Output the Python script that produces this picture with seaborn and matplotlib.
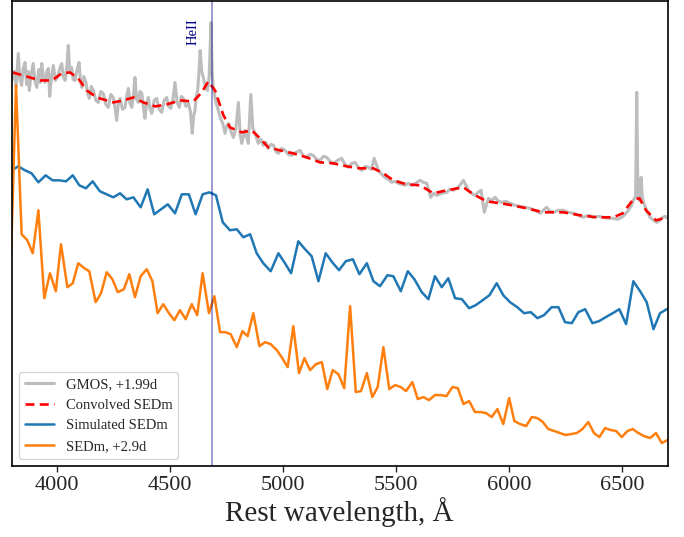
import numpy as np
import pandas as pd
import matplotlib
matplotlib.use("Agg")
import matplotlib.pyplot as plt
import seaborn as sns

# ---------------- data (normalised flux + arbitrary offsets) ----------------
gmos_wl = [3800, 3812, 3820, 3829, 3836, 3844, 3851, 3859, 3866, 3872, 3878, 3886, 3895, 3903,
           3911, 3920, 3926, 3933, 3940, 3947, 3955, 3962, 3968, 3976, 3984, 3993, 4002, 4011,
           4021, 4028, 4036, 4044, 4050, 4057, 4065, 4072, 4080, 4089, 4098, 4104, 4110, 4119,
           4128, 4135, 4143, 4152, 4161, 4172, 4183, 4194, 4205, 4216, 4227, 4238, 4249, 4256,
           4264, 4271, 4279, 4290, 4301, 4308, 4316, 4323, 4331, 4338, 4345, 4352, 4360, 4367,
           4375, 4382, 4389, 4396, 4404, 4411, 4419, 4430, 4441, 4452, 4463, 4474, 4485, 4494,
           4503, 4512, 4522, 4531, 4541, 4550, 4559, 4570, 4581, 4590, 4598, 4604, 4610, 4616,
           4622, 4628, 4633, 4640, 4647, 4656, 4665, 4673, 4681, 4686, 4691, 4702, 4713, 4723,
           4733, 4743, 4750, 4758, 4769, 4780, 4791, 4802, 4810, 4817, 4831, 4846, 4857, 4866,
           4876, 4890, 4901, 4912, 4923, 4934, 4946, 4957, 4968, 4979, 4993, 5008, 5023, 5038,
           5056, 5075, 5090, 5104, 5118, 5133, 5148, 5163, 5178, 5193, 5207, 5222, 5240, 5259,
           5273, 5288, 5303, 5318, 5332, 5347, 5362, 5377, 5390, 5402, 5421, 5435, 5450, 5465,
           5480, 5495, 5509, 5524, 5539, 5553, 5568, 5586, 5605, 5620, 5635, 5652, 5665, 5679,
           5700, 5723, 5737, 5752, 5774, 5797, 5819, 5833, 5848, 5862, 5875, 5889, 5907, 5922,
           5937, 5952, 5966, 5985, 6003, 6025, 6047, 6069, 6091, 6113, 6136, 6150, 6165, 6180,
           6194, 6216, 6239, 6261, 6283, 6305, 6327, 6349, 6371, 6393, 6415, 6437, 6460, 6478,
           6497, 6512, 6526, 6538, 6548, 6558, 6563, 6568, 6573, 6578, 6582, 6588, 6595, 6608,
           6622, 6637, 6652, 6665, 6678, 6690, 6700]
gmos_fl = [3.86, 3.95, 3.80, 4.13, 3.88, 3.81, 3.98, 4.04, 3.82, 3.95, 3.76, 3.92, 4.03, 3.85,
           3.79, 3.97, 3.84, 4.03, 3.88, 3.84, 3.95, 3.98, 3.70, 3.90, 4.01, 3.86, 3.89, 3.97,
           4.03, 3.90, 3.86, 4.00, 4.21, 3.95, 3.99, 3.87, 3.86, 3.97, 4.04, 3.86, 3.79, 3.90,
           3.84, 3.74, 3.68, 3.80, 3.76, 3.66, 3.64, 3.75, 3.73, 3.62, 3.59, 3.72, 3.69, 3.60,
           3.46, 3.62, 3.68, 3.57, 3.59, 3.70, 3.78, 3.63, 3.59, 3.71, 3.89, 3.67, 3.64, 3.75,
           3.73, 3.60, 3.48, 3.62, 3.69, 3.58, 3.53, 3.66, 3.68, 3.57, 3.54, 3.66, 3.69, 3.60,
           3.58, 3.66, 3.84, 3.64, 3.59, 3.70, 3.68, 3.60, 3.63, 3.55, 3.33, 3.50, 3.56, 3.70,
           3.76, 3.95, 4.16, 3.95, 3.89, 3.80, 3.76, 3.90, 4.44, 3.95, 3.79, 3.65, 3.56, 3.48,
           3.43, 3.33, 3.40, 3.43, 3.35, 3.29, 3.38, 3.64, 3.32, 3.23, 3.36, 3.23, 3.72, 3.38,
           3.33, 3.23, 3.27, 3.21, 3.24, 3.18, 3.22, 3.21, 3.15, 3.13, 3.18, 3.16, 3.12, 3.11,
           3.14, 3.16, 3.10, 3.09, 3.12, 3.11, 3.07, 3.06, 3.10, 3.09, 3.05, 3.03, 3.06, 3.08,
           3.02, 2.99, 3.03, 3.04, 2.99, 2.96, 3.00, 2.99, 2.97, 3.08, 2.96, 2.92, 2.89, 2.87,
           2.84, 2.85, 2.83, 2.82, 2.81, 2.83, 2.81, 2.83, 2.86, 2.84, 2.83, 2.69, 2.73, 2.71,
           2.73, 2.74, 2.77, 2.76, 2.79, 2.86, 2.76, 2.73, 2.71, 2.74, 2.76, 2.54, 2.68, 2.66,
           2.69, 2.65, 2.64, 2.65, 2.63, 2.61, 2.60, 2.59, 2.58, 2.56, 2.53, 2.56, 2.59, 2.55,
           2.54, 2.56, 2.56, 2.54, 2.53, 2.51, 2.49, 2.51, 2.49, 2.50, 2.49, 2.48, 2.48, 2.47,
           2.49, 2.52, 2.56, 2.60, 2.66, 2.70, 3.74, 2.72, 2.66, 2.72, 2.89, 2.68, 2.63, 2.55,
           2.49, 2.46, 2.44, 2.46, 2.49, 2.50, 2.48]

conv_wl = [3804, 3866, 3925, 3977, 4021, 4058, 4094, 4132, 4176, 4249, 4293, 4338, 4382, 4434,
           4485, 4544, 4603, 4640, 4669, 4699, 4736, 4765, 4817, 4861, 4898, 4934, 4986, 5045,
           5104, 5163, 5222, 5281, 5340, 5399, 5443, 5487, 5546, 5605, 5664, 5723, 5797, 5841,
           5900, 5988, 6077, 6150, 6239, 6313, 6386, 6460, 6501, 6548, 6575, 6604, 6648, 6700]
conv_fl = [3.94, 3.90, 3.86, 3.86, 3.93, 3.94, 3.88, 3.76, 3.69, 3.64, 3.66, 3.69, 3.64, 3.60,
           3.62, 3.66, 3.65, 3.74, 3.85, 3.76, 3.51, 3.39, 3.34, 3.36, 3.28, 3.19, 3.16, 3.13,
           3.09, 3.04, 3.03, 3.00, 2.98, 2.98, 2.93, 2.86, 2.82, 2.81, 2.73, 2.76, 2.79, 2.72,
           2.65, 2.62, 2.58, 2.54, 2.54, 2.51, 2.49, 2.49, 2.53, 2.67, 2.68, 2.56, 2.46, 2.49]

sim_wl = [3800, 3829, 3859, 3888, 3918, 3950, 3981, 4010, 4040, 4070, 4099, 4128, 4158, 4190,
          4220, 4249, 4279, 4308, 4338, 4370, 4401, 4430, 4460, 4490, 4522, 4552, 4583, 4613,
          4644, 4674, 4703, 4733, 4765, 4795, 4824, 4854, 4883, 4912, 4945, 4979, 5008, 5035,
          5067, 5097, 5126, 5156, 5188, 5217, 5247, 5277, 5308, 5337, 5370, 5399, 5428, 5461,
          5487, 5520, 5551, 5580, 5613, 5642, 5671, 5701, 5730, 5760, 5790, 5822, 5851, 5882,
          5912, 5944, 5973, 6003, 6035, 6065, 6095, 6124, 6153, 6187, 6217, 6246, 6276, 6305,
          6335, 6367, 6396, 6426, 6457, 6486, 6516, 6548, 6578, 6607, 6637, 6666, 6696, 6726]
sim_fl = [2.96, 3.00, 2.96, 2.93, 2.84, 2.91, 2.86, 2.86, 2.85, 2.91, 2.81, 2.78, 2.85, 2.75,
          2.72, 2.69, 2.73, 2.67, 2.69, 2.59, 2.77, 2.52, 2.57, 2.62, 2.53, 2.72, 2.72, 2.52,
          2.72, 2.74, 2.71, 2.44, 2.36, 2.37, 2.29, 2.32, 2.13, 2.03, 1.95, 2.13, 2.03, 1.93,
          2.25, 2.17, 2.10, 1.85, 2.13, 2.04, 1.96, 2.05, 2.07, 1.92, 2.03, 1.85, 1.80, 1.91,
          1.90, 1.75, 1.95, 1.87, 1.74, 1.67, 1.90, 1.79, 1.88, 1.68, 1.67, 1.58, 1.61, 1.66,
          1.71, 1.83, 1.71, 1.64, 1.59, 1.53, 1.54, 1.48, 1.51, 1.59, 1.59, 1.44, 1.43, 1.54,
          1.57, 1.43, 1.45, 1.49, 1.53, 1.57, 1.42, 1.85, 1.75, 1.64, 1.37, 1.53, 1.57, 1.58]

sedm_wl = [3794, 3819, 3844, 3869, 3893, 3918, 3944, 3969, 3995, 4018, 4046, 4070, 4094, 4121,
           4143, 4171, 4195, 4220, 4245, 4269, 4296, 4320, 4345, 4370, 4397, 4422, 4445, 4470,
           4495, 4519, 4544, 4569, 4596, 4620, 4644, 4672, 4696, 4721, 4743, 4768, 4795, 4820,
           4843, 4868, 4895, 4920, 4945, 4972, 4996, 5020, 5045, 5070, 5094, 5119, 5145, 5171,
           5195, 5219, 5244, 5270, 5296, 5321, 5344, 5370, 5394, 5418, 5443, 5469, 5495, 5520,
           5543, 5571, 5595, 5620, 5645, 5671, 5697, 5722, 5748, 5772, 5797, 5822, 5848, 5873,
           5897, 5922, 5947, 5973, 5999, 6022, 6047, 6074, 6099, 6124, 6148, 6172, 6199, 6224,
           6249, 6273, 6298, 6323, 6349, 6374, 6398, 6423, 6448, 6472, 6497, 6522, 6545, 6570,
           6595, 6622, 6648, 6674, 6700, 6725]
sedm_fl = [1.86, 3.81, 2.32, 2.26, 2.13, 2.56, 1.68, 1.93, 1.75, 2.22, 1.79, 1.83, 2.03, 1.98,
           1.95, 1.64, 1.73, 1.94, 1.87, 1.74, 1.77, 1.92, 1.69, 1.90, 1.97, 1.85, 1.53, 1.62,
           1.53, 1.46, 1.56, 1.47, 1.62, 1.51, 1.93, 1.53, 1.70, 1.34, 1.34, 1.32, 1.19, 1.35,
           1.30, 1.53, 1.20, 1.24, 1.22, 1.16, 1.08, 0.99, 1.40, 0.93, 1.08, 0.96, 1.02, 1.04,
           0.77, 0.96, 0.92, 0.78, 1.60, 0.74, 0.75, 0.93, 0.69, 0.79, 1.19, 0.77, 0.81, 0.79,
           0.75, 0.84, 0.67, 0.69, 0.66, 0.71, 0.71, 0.70, 0.79, 0.78, 0.62, 0.65, 0.54, 0.54,
           0.53, 0.49, 0.57, 0.42, 0.68, 0.45, 0.42, 0.40, 0.49, 0.48, 0.44, 0.37, 0.35, 0.33,
           0.31, 0.32, 0.33, 0.37, 0.44, 0.33, 0.29, 0.38, 0.36, 0.35, 0.29, 0.35, 0.37, 0.33,
           0.30, 0.28, 0.33, 0.23, 0.26, 0.28]

heii_wl = 4686
xticks = [4000, 4500, 5000, 5500, 6000, 6500]
labels = ["GMOS, +1.99d", "Convolved SEDm", "Simulated SEDm", "SEDm, +2.9d"]

# ---------------- style ----------------
sns.set_style("ticks")
plt.rcParams["font.family"] = ["Liberation Serif", "DejaVu Serif"]

fig = plt.figure(figsize=(6.84, 5.37), dpi=100)
ax = fig.add_axes([0.0171, 0.1322, 0.9591, 0.8668])

gmos = pd.DataFrame({"wl": gmos_wl, "flux": gmos_fl})
conv = pd.DataFrame({"wl": conv_wl, "flux": conv_fl})
sim = pd.DataFrame({"wl": sim_wl, "flux": sim_fl})
sedm = pd.DataFrame({"wl": sedm_wl, "flux": sedm_fl})

sns.lineplot(data=gmos, x="wl", y="flux", color="#bdbdbd", lw=2.2, sort=False,
             estimator=None, label=labels[0], ax=ax)
sns.lineplot(data=conv, x="wl", y="flux", color="red", lw=1.9, sort=False,
             estimator=None, label=labels[1], ax=ax, linestyle=(0, (3.4, 2.0)))
sns.lineplot(data=sim, x="wl", y="flux", color="#1f77b4", lw=1.8, sort=False,
             estimator=None, label=labels[2], ax=ax)
sns.lineplot(data=sedm, x="wl", y="flux", color="#ff7f0e", lw=1.8, sort=False,
             estimator=None, label=labels[3], ax=ax)

ax.axvline(heii_wl, color="darkblue", alpha=0.5, lw=1.1)
ax.text(heii_wl - 54, 4.35, "HeII", rotation=90, ha="right", va="center",
        color="darkblue", fontsize=10.5)

ax.set_xlim(3800, 6700)
ax.set_ylim(0, 4.66)
ax.set_xticks(xticks)
ax.set_xticklabels([str(t) for t in xticks])
ax.set_yticks([])
ax.set_ylabel("")
ax.set_xlabel("Rest wavelength, Å", fontsize=21, labelpad=2)
ax.tick_params(axis="x", labelsize=16, length=4, width=1, direction="out", pad=3)
for s in ax.spines.values():
    s.set_color("black")
    s.set_linewidth(1.2)

leg = ax.legend(loc="lower left", fontsize=10.5, frameon=True, fancybox=True,
                borderaxespad=0.5)
leg.get_frame().set_edgecolor("#cccccc")

fig.savefig("out.png", dpi=100)
